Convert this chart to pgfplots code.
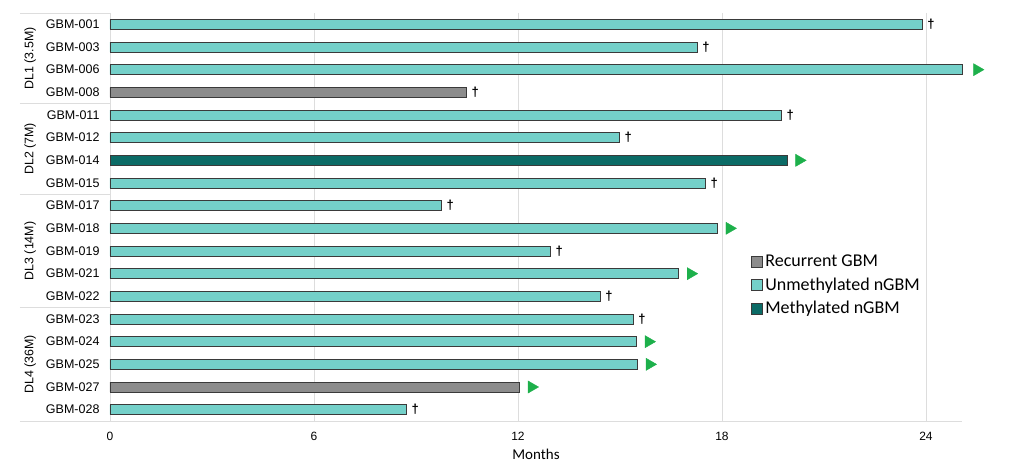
\documentclass[border=0pt]{standalone}
\usepackage{pgfplots}
\pgfplotsset{compat=1.18}
\usepackage{fontspec}
\setmainfont{Liberation Sans}
\newfontfamily\calib{Carlito}
\definecolor{unmeth}{HTML}{74D0C9}
\definecolor{meth}{HTML}{0B6B66}
\definecolor{recur}{HTML}{8C8C8C}
\definecolor{edge}{HTML}{3A3A3A}
\definecolor{tri}{HTML}{1DB04B}
\definecolor{lines}{HTML}{DDDDDD}
\begin{document}
\begin{tikzpicture}
\begin{axis}[
  name=ax,
  scale only axis,
  width=852pt, height=408pt,
  xmin=0, xmax=25.06,
  ymin=0.5, ymax=18.5,
  y dir=reverse,
  clip=false,
  axis x line*=bottom,
  axis y line*=left,
  axis line style={lines},
  xtick={0,6,12,18,24},
  xmajorgrids,
  grid style={lines},
  major tick length=0pt,
  ytick={1,...,18},
  yticklabels={GBM-001,GBM-003,GBM-006,GBM-008,GBM-011,GBM-012,GBM-014,GBM-015,GBM-017,GBM-018,GBM-019,GBM-021,GBM-022,GBM-023,GBM-024,GBM-025,GBM-027,GBM-028},
  yticklabel style={font=\fontsize{12.5}{14}\selectfont, xshift=-7pt},
  xticklabel style={font=\fontsize{12}{14}\selectfont, yshift=-8pt},
  /pgf/number format/assume math mode=true,
  extra y ticks={0.5,4.5,8.5,13.5,18.5},
  extra y tick labels={},
  extra y tick style={major tick length=90pt, tick align=outside, tick style={lines, thick}},
  xlabel={Months},
  xlabel style={font=\calib\fontsize{15}{17}\selectfont, yshift=-1pt},
  xbar, bar shift=0pt, bar width=10pt,
  legend style={at={(0.7485,0.417)}, anchor=north west, draw=none, fill=none,
    font=\calib\fontsize{18}{20}\selectfont, row sep=5.5pt,
    nodes={inner xsep=3pt}},
  legend cell align=left,
  legend image code/.code={\fill[#1, draw=edge] (0pt,-5.5pt) rectangle (11pt,5.5pt);},
]
\addplot[fill=recur, draw=edge] coordinates {
  (10.47,4) (12.03,17)
};
\addlegendentry{Recurrent GBM}
\addplot[fill=unmeth, draw=edge] coordinates {
  (23.88,1) (17.26,2) (25.06,3) (19.74,5) (14.97,6) (17.50,8)
  (9.74,9) (17.85,10) (12.94,11) (16.71,12) (14.41,13)
  (15.38,14) (15.47,15) (15.50,16) (8.71,18)
};
\addlegendentry{Unmethylated nGBM}
\addplot[fill=meth, draw=edge] coordinates {
  (19.91,7)
};
\addlegendentry{Methylated nGBM}
% deaths
\addplot[forget plot, xbar=false, only marks, mark=text,
  text mark={\fontsize{13}{13}\selectfont\bfseries\textdagger}] coordinates {
  (24.15,1) (17.53,2) (10.74,4) (20.01,5) (15.24,6) (17.77,8)
  (10.01,9) (13.21,11) (14.68,13) (15.65,14) (8.98,18)
};
% ongoing
\addplot[forget plot, xbar=false, only marks, mark=triangle*, mark size=7pt,
  mark options={rotate=-90, fill=tri, draw=tri}] coordinates {
  (25.50,3) (20.27,7) (18.22,10) (17.08,12) (15.84,15) (15.87,16) (12.40,17)
};
\node[rotate=90, font=\fontsize{12.4}{14}\selectfont] at (axis cs:-2.35,2.5) {DL1 (3.5M)};
\node[rotate=90, font=\fontsize{12.4}{14}\selectfont] at (axis cs:-2.35,6.5) {DL2 (7M)};
\node[rotate=90, font=\fontsize{12.4}{14}\selectfont] at (axis cs:-2.35,11) {DL3 (14M)};
\node[rotate=90, font=\fontsize{12.4}{14}\selectfont] at (axis cs:-2.35,16) {DL4 (36M)};
\end{axis}
\pgfresetboundingbox
\path ([xshift=-110pt,yshift=-47pt]ax.south west) rectangle ([xshift=49pt,yshift=13pt]ax.north east);
\end{tikzpicture}
\end{document}
